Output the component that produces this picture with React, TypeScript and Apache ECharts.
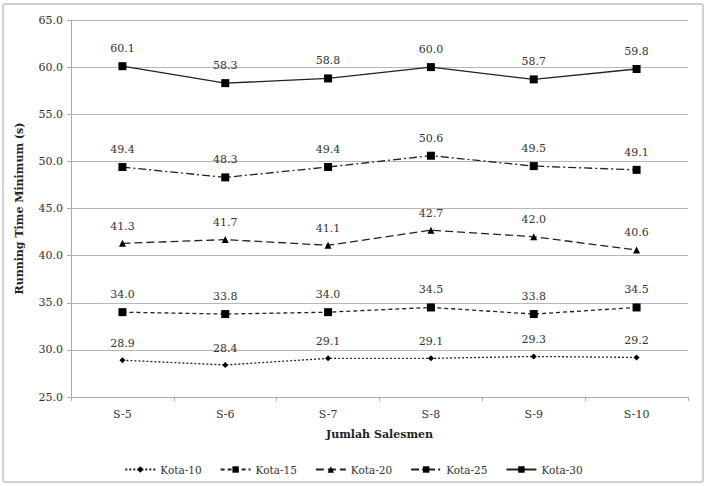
import React, { useEffect, useRef } from "react";
import * as echarts from "echarts";

const categories = ["S-5", "S-6", "S-7", "S-8", "S-9", "S-10"];
const kota10 = [28.9, 28.4, 29.1, 29.1, 29.3, 29.2];
const kota15 = [34.0, 33.8, 34.0, 34.5, 33.8, 34.5];
const kota20 = [41.3, 41.7, 41.1, 42.7, 42.0, 40.6];
const kota25 = [49.4, 48.3, 49.4, 50.6, 49.5, 49.1];
const kota30 = [60.1, 58.3, 58.8, 60.0, 58.7, 59.8];
const seriesNames = ["Kota-10", "Kota-15", "Kota-20", "Kota-25", "Kota-30"];

const FONT = "DejaVu Serif";

export default function App() {
  const ref = useRef<HTMLDivElement>(null);
  useEffect(() => {
    if (!ref.current) return;
    const chart = echarts.init(ref.current, undefined, { renderer: "svg" });
    const styles = [
      { data: kota10, symbol: "diamond", size: 6, dash: [2, 2] },
      { data: kota15, symbol: "rect", size: 8, dash: [4, 3] },
      { data: kota20, symbol: "triangle", size: 7, dash: [8, 4] },
      { data: kota25, symbol: "rect", size: 8, dash: [8, 3, 2, 3] },
      { data: kota30, symbol: "rect", size: 8, dash: "solid" as any },
    ];
    chart.setOption({
      animation: false,
      backgroundColor: "#fff",
      textStyle: { fontFamily: FONT },
      graphic: [
        {
          type: "rect",
          shape: { x: 3, y: 4, width: 700, height: 478, r: 2 },
          style: { fill: "none", stroke: "#d0d0d0", lineWidth: 2 },
          silent: true,
        },
      ],
      grid: { left: 71, right: 19, top: 20, bottom: 89 },
      legend: {
        bottom: 6,
        left: "center",
        itemWidth: 30,
        itemHeight: 8,
        itemGap: 18,
        data: seriesNames,
        textStyle: { fontFamily: FONT, fontSize: 10.5, color: "#333" },
      },
      xAxis: {
        type: "category",
        data: categories,
        boundaryGap: true,
        name: "Jumlah Salesmen",
        nameLocation: "middle",
        nameGap: 32,
        nameTextStyle: { fontFamily: FONT, fontSize: 11, fontWeight: "bold", color: "#222" },
        axisLine: { lineStyle: { color: "#aaa", width: 1 } },
        axisTick: { show: true, length: 4, lineStyle: { color: "#aaa" } },
        axisLabel: { fontFamily: FONT, fontSize: 11, color: "#333", margin: 12 },
      },
      yAxis: {
        type: "value",
        min: 25,
        max: 65,
        interval: 5,
        name: "Running Time Minimum (s)",
        nameLocation: "middle",
        nameGap: 46,
        nameRotate: 90,
        nameTextStyle: { fontFamily: FONT, fontSize: 11, fontWeight: "bold", color: "#222" },
        axisLine: { show: true, lineStyle: { color: "#aaa" } },
        axisTick: { show: true, length: 4, lineStyle: { color: "#aaa" } },
        axisLabel: {
          fontFamily: FONT,
          fontSize: 11,
          color: "#333",
          margin: 8,
          formatter: (v: number) => v.toFixed(1),
        },
        splitLine: { lineStyle: { color: "#b8b8b8", width: 1 } },
      },
      series: styles.map((s, i) => ({
        name: seriesNames[i],
        type: "line",
        data: s.data,
        symbol: s.symbol,
        symbolSize: s.size,
        showAllSymbol: true,
        itemStyle: { color: "#000" },
        lineStyle: { color: "#222", width: 1.3, type: s.dash },
        label: {
          show: true,
          position: "top",
          distance: 8,
          fontFamily: FONT,
          fontSize: 11,
          color: "#333",
          formatter: (p: any) => Number(p.value).toFixed(1),
        },
      })),
    });
    return () => chart.dispose();
  }, []);
  return <div ref={ref} style={{ width: 707, height: 486, position: "absolute", left: 0, top: 0 }} />;
}
